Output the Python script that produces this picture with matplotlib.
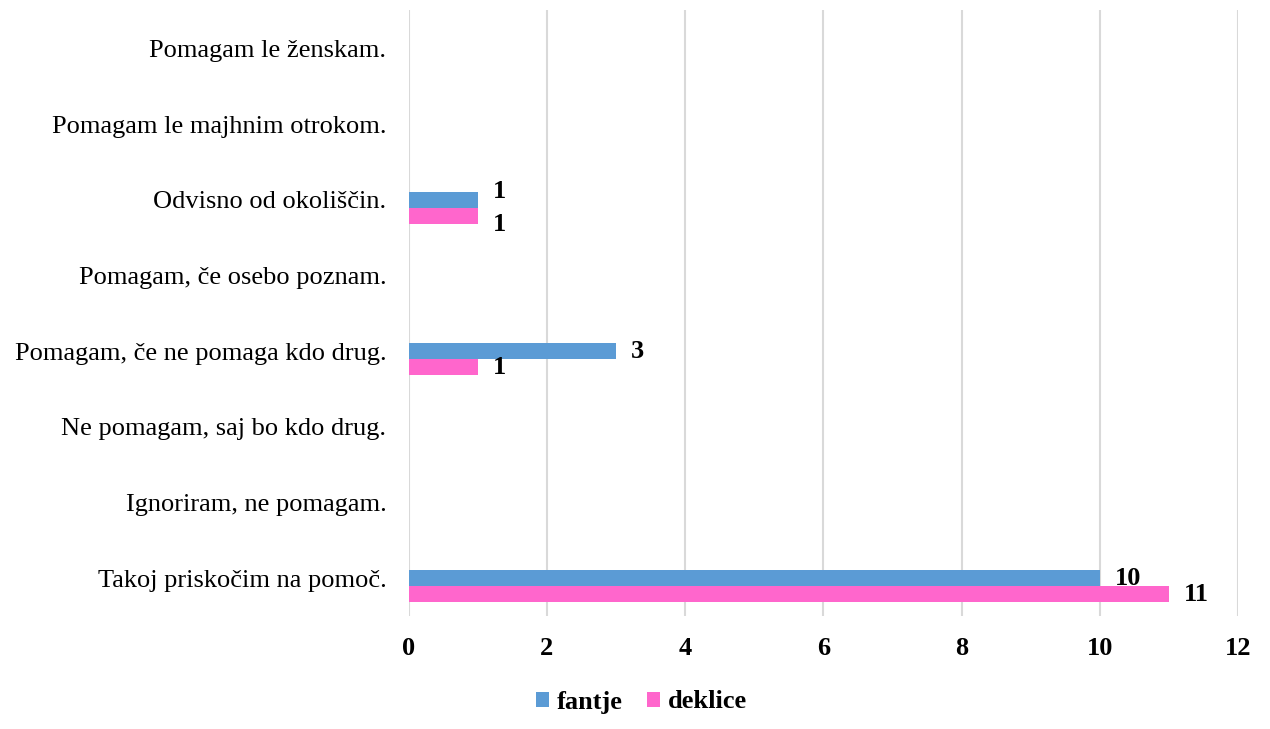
import matplotlib.pyplot as plt
import numpy as np

plt.rcParams['font.family'] = ['Liberation Serif', 'DejaVu Serif']

# === Data ===
categories = [
    "Pomagam le ženskam.",
    "Pomagam le majhnim otrokom.",
    "Odvisno od okoliščin.",
    "Pomagam, če osebo poznam.",
    "Pomagam, če ne pomaga kdo drug.",
    "Ne pomagam, saj bo kdo drug.",
    "Ignoriram, ne pomagam.",
    "Takoj priskočim na pomoč.",
]
fantje = [0, 0, 1, 0, 3, 0, 0, 10]
deklice = [0, 0, 1, 0, 1, 0, 0, 11]
x_ticks = [0, 2, 4, 6, 8, 10, 12]

blue = '#5B9BD5'
pink = '#FF66CC'

# === Figure ===
fig = plt.figure(figsize=(12.7, 7.29), dpi=100)
ax = fig.add_axes([0.3217, 0.155, 0.9748 - 0.3217, 0.9856 - 0.155])

y = np.arange(len(categories))
h = 0.211
ax.barh(y, fantje, height=h, color=blue, label='fantje', zorder=3)
ax.barh(y + h, deklice, height=h, color=pink, label='deklice', zorder=3)

# === Data labels (only non-zero) ===
# vertical nudges where the two labels would collide
nudge = {2: (6, -6)}
for i, (f, d) in enumerate(zip(fantje, deklice)):
    df, dd = nudge.get(i, (0, 0))
    if f:
        ax.annotate(f"{f}", (f, y[i]), xytext=(11, df), textcoords='offset points',
                    ha='left', va='center', fontsize=19, fontweight='bold', zorder=4)
    if d:
        ax.annotate(f"{d}", (d, y[i] + h), xytext=(11, dd), textcoords='offset points',
                    ha='left', va='center', fontsize=19, fontweight='bold', zorder=4)

# === Axes ===
ax.set_ylim(len(categories) - 0.5, -0.5)
ax.set_yticks(y)
ax.set_yticklabels(categories, fontsize=19)
ax.set_xlim(0, 12)
ax.set_xticks(x_ticks)
ax.set_xticklabels([str(t) for t in x_ticks], fontsize=19, fontweight='bold')
ax.tick_params(length=0)
ax.tick_params(axis='y', pad=16)
ax.tick_params(axis='x', pad=15)
ax.grid(axis='x', color='#d9d9d9', linewidth=1.5, zorder=0)
for s in ax.spines.values():
    s.set_visible(False)

fig.legend(loc='center', bbox_to_anchor=(0.505, 1 - 702 / 729), ncol=2, frameon=False,
           prop={'size': 19, 'weight': 'bold'}, handlelength=0.5, handleheight=0.5,
           handletextpad=0.3, columnspacing=0.9)

fig.savefig('out.png', dpi=100)
